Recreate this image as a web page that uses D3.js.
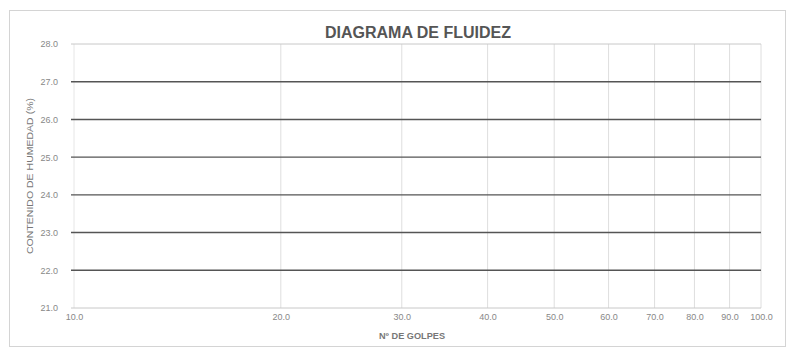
<!DOCTYPE html>
<html>
<head>
<meta charset="utf-8">
<script src="https://cdn.jsdelivr.net/npm/d3@7"></script>
<style>
  html, body { margin: 0; padding: 0; background: #fff; }
  svg { display: block; font-family: "Liberation Sans", Arial, sans-serif; }
</style>
</head>
<body>
<svg id="chart" width="789" height="352"></svg>
<script>
// Flow curve chart: moisture content vs. number of blows (log scale)
const title = "DIAGRAMA DE FLUIDEZ";
const xTitle = "Nº DE GOLPES";
const yTitle = "CONTENIDO DE HUMEDAD (%)";
const xTicks = [10, 20, 30, 40, 50, 60, 70, 80, 90, 100];
const yTicks = [21, 22, 23, 24, 25, 26, 27, 28];
const xDomain = [10, 100];
const yDomain = [21, 28];

const svg = d3.select("#chart");
const W = 789, H = 352;
const m = { left: 74, right: 28, top: 44, bottom: 44 };

const x = d3.scaleLog().domain(xDomain).range([m.left, W - m.right]);
const y = d3.scaleLinear().domain(yDomain).range([H - m.bottom, m.top]);

// outer frame
svg.append("rect")
  .attr("x", 9.5).attr("y", 10.5)
  .attr("width", 776).attr("height", 336)
  .attr("fill", "none").attr("stroke", "#d4d4d4").attr("stroke-width", 1);

// title
svg.append("text")
  .attr("x", 418).attr("y", 38)
  .attr("text-anchor", "middle")
  .attr("font-family", "'Liberation Sans Narrow', 'Liberation Sans', Arial, sans-serif")
  .attr("font-size", 16)
  .attr("font-weight", "bold")
  .attr("fill", "#555")
  .attr("textLength", 186)
  .attr("lengthAdjust", "spacingAndGlyphs")
  .text(title);

// vertical gridlines
svg.append("g")
  .selectAll("line")
  .data(xTicks.filter(d => d > xDomain[0]))
  .join("line")
  .attr("x1", d => x(d)).attr("x2", d => x(d))
  .attr("y1", y(yDomain[1])).attr("y2", y(yDomain[0]))
  .attr("stroke", "#dedede").attr("stroke-width", 1);

// left vertical edge
svg.append("line")
  .attr("x1", x(xDomain[0])).attr("x2", x(xDomain[0]))
  .attr("y1", y(yDomain[1])).attr("y2", y(yDomain[0]))
  .attr("stroke", "#e6e6e6");

// horizontal gridlines
svg.append("g")
  .selectAll("line")
  .data(yTicks)
  .join("line")
  .attr("x1", x(xDomain[0]) - 3).attr("x2", x(xDomain[1]))
  .attr("y1", d => y(d)).attr("y2", d => y(d))
  .attr("stroke", d => (d === yDomain[0] || d === yDomain[1]) ? "#c8c8c8" : "#555")
  .attr("stroke-width", d => (d === yDomain[0] || d === yDomain[1]) ? 1 : 1.4);

// y axis labels
const yAxis = d3.axisLeft(y).tickValues(yTicks).tickFormat(d3.format(".1f")).tickSize(0).tickPadding(16);
svg.append("g")
  .attr("transform", `translate(${m.left},0)`)
  .call(yAxis)
  .call(g => g.select(".domain").remove())
  .call(g => g.selectAll("text").attr("font-size", 9).attr("fill", "#888").attr("font-family", "Liberation Sans, Arial, sans-serif"));

// x axis labels
const xAxis = d3.axisBottom(x).tickValues(xTicks).tickFormat(d3.format(".1f")).tickSize(0).tickPadding(6);
svg.append("g")
  .attr("transform", `translate(0,${y(yDomain[0])})`)
  .call(xAxis)
  .call(g => g.select(".domain").remove())
  .call(g => g.selectAll("text").attr("font-size", 9).attr("fill", "#888").attr("font-family", "Liberation Sans, Arial, sans-serif"));

// axis titles
svg.append("text")
  .attr("x", 412).attr("y", 339)
  .attr("text-anchor", "middle")
  .attr("font-size", 8.5).attr("font-weight", "bold")
  .attr("fill", "#777")
  .attr("textLength", 66)
  .attr("lengthAdjust", "spacingAndGlyphs")
  .text(xTitle);

svg.append("text")
  .attr("transform", `translate(33,${(y(yDomain[0]) + y(yDomain[1])) / 2}) rotate(-90)`)
  .attr("text-anchor", "middle")
  .attr("font-size", 9)
  .attr("fill", "#777")
  .attr("textLength", 156)
  .attr("lengthAdjust", "spacingAndGlyphs")
  .text(yTitle);
</script>
</body>
</html>
